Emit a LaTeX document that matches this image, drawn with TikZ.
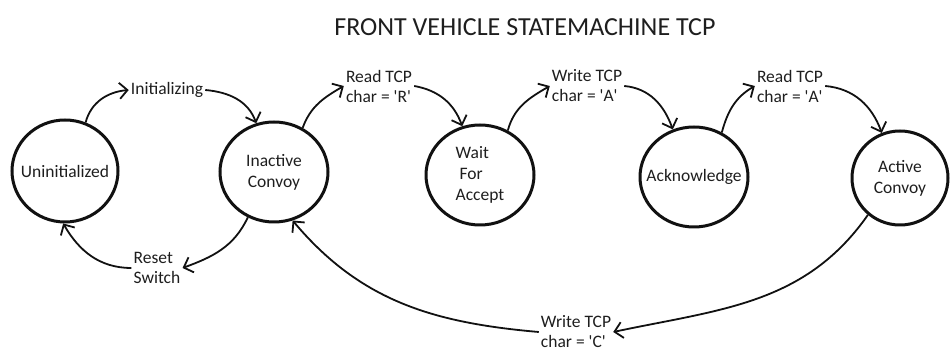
\documentclass[tikz,border=0pt]{standalone}
\usepackage{fontspec}
\setmainfont{Carlito}
\usepackage{tikz}
\usetikzlibrary{arrows.meta,shapes.geometric}
\usepackage{xcolor}
\definecolor{ink}{HTML}{111111}
\definecolor{txt}{HTML}{1E1E1E}

\newcommand{\sq}{\textquotesingle}

\begin{document}
\begin{tikzpicture}[
  x=1pt, y=1pt,
  >={Straight Barb[length=8pt, width=16pt]},
  state/.style={draw=ink, ellipse, line width=3pt, minimum width=108pt, minimum height=100pt, inner sep=0pt, align=center, font=\fontsize{17.5}{21}\selectfont, text=txt},
  lbl/.style={align=left, inner sep=2pt, font=\fontsize{17.5}{20}\selectfont, text=txt},
  trans/.style={->, line width=1.8pt, draw=ink},
]
\useasboundingbox (0,0) rectangle (951,353);

\node[font=\fontsize{26}{30}\selectfont, text=txt] (title) at (525,326) {FRONT VEHICLE STATEMACHINE TCP};

% states (long names squeezed so the ring keeps its size)
\node[state, inner xsep=-7pt, minimum width=106pt, minimum height=102pt] (uninit) at (65,182) {Uninitialized};
\node[state] (inact) at (274,181) {Inactive\\Convoy};
\node[state, align=left] (wait) at (480,178) {Wait\\\ For\\Accept};
\node[state, inner xsep=-11pt] (ack) at (694,176) {Acknowledge};
\node[state, minimum width=96pt, minimum height=94pt] (active) at (900,175) {Active\\Convoy};

% transition labels
\node[lbl] (init) at (167,263) {Initializing};
\node[lbl] (rdR) at (379,267) {Read TCP\\char = \sq R\sq};
\node[lbl] (wrA) at (587,267) {Write TCP\\char = \sq A\sq};
\node[lbl] (rdA) at (790,267) {Read TCP\\char = \sq A\sq};
\node[lbl] (reset) at (157,85) {Reset\\Switch};
\node[lbl] (wrC) at (576,21) {Write TCP\\char = \sq C\sq};

% forward chain
\draw[trans] (uninit.67) to[out=75, in=185] (init.west);
\draw[trans] (init.east) to[out=-5, in=110] (inact.110);
\draw[trans] (inact.57) to[out=70, in=210] (rdR.west);
\draw[trans] (rdR.east) to[out=-10, in=110] (wait.110);
\draw[trans] (wait.58) to[out=75, in=210] (wrA.west);
\draw[trans] (wrA.east) to[out=-5, in=110] (ack.114);
\draw[trans] (ack.58) to[out=75, in=210] (rdA.west);
\draw[trans] (rdA.east) to[out=-5, in=110] (active.112);

% back edges
\draw[trans] (inact.240) to[out=245, in=20] (reset.east);
\draw[trans] (reset.west) to[out=180, in=-60] (uninit.268);
\draw[trans] (active.229) to[out=235, in=12] (wrC.east);
\draw[trans] (wrC.west) to[out=175, in=-50] (inact.291);

\end{tikzpicture}
\end{document}
